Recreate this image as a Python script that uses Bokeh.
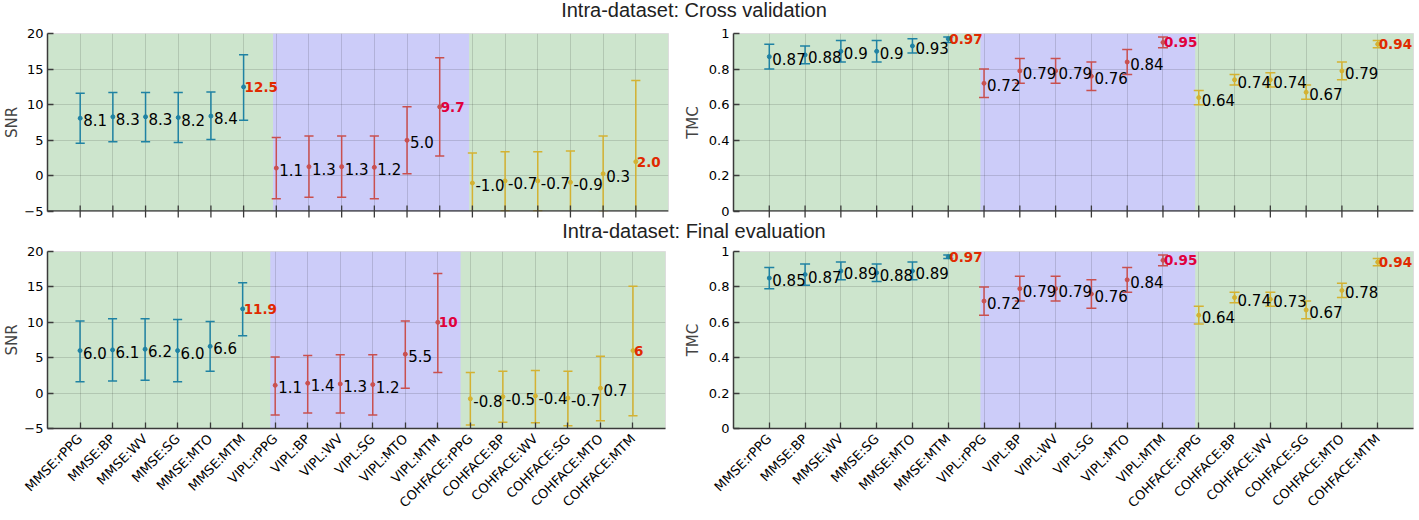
import math
from bokeh.plotting import figure
from bokeh.models import FixedTicker, BoxAnnotation, Div, Span
from bokeh.layouts import column, row
from bokeh.embed import file_html
from bokeh.resources import INLINE
from bokeh.core.properties import value

categories = ["MMSE:rPPG", "MMSE:BP", "MMSE:WV", "MMSE:SG", "MMSE:MTO", "MMSE:MTM",
              "VIPL:rPPG", "VIPL:BP", "VIPL:WV", "VIPL:SG", "VIPL:MTO", "VIPL:MTM",
              "COHFACE:rPPG", "COHFACE:BP", "COHFACE:WV", "COHFACE:SG", "COHFACE:MTO", "COHFACE:MTM"]

# Cross validation - SNR
snr_cv_mean = [8.1, 8.3, 8.3, 8.2, 8.4, 12.5, 1.1, 1.3, 1.3, 1.2, 5.0, 9.7, -1.0, -0.7, -0.7, -0.9, 0.3, 2.0]
snr_cv_low = [4.6, 4.8, 4.8, 4.7, 5.1, 7.8, -3.2, -3.0, -3.0, -3.2, 0.3, 2.8, -5.3, -4.9, -4.9, -5.3, -5.1, -9.4]
snr_cv_high = [11.6, 11.7, 11.7, 11.7, 11.8, 17.0, 5.4, 5.6, 5.6, 5.6, 9.7, 16.6, 3.2, 3.4, 3.4, 3.5, 5.6, 13.4]
snr_cv_labels = ["8.1", "8.3", "8.3", "8.2", "8.4", "12.5", "1.1", "1.3", "1.3", "1.2", "5.0", "9.7",
                 "-1.0", "-0.7", "-0.7", "-0.9", "0.3", "2.0"]

# Cross validation - TMC
tmc_cv_mean = [0.87, 0.88, 0.9, 0.9, 0.93, 0.97, 0.72, 0.79, 0.79, 0.76, 0.84, 0.95, 0.64, 0.74, 0.74, 0.67, 0.79, 0.94]
tmc_cv_low = [0.80, 0.83, 0.84, 0.84, 0.89, 0.95, 0.64, 0.72, 0.72, 0.68, 0.77, 0.92, 0.60, 0.71, 0.70, 0.63, 0.74, 0.92]
tmc_cv_high = [0.94, 0.93, 0.96, 0.96, 0.97, 0.98, 0.80, 0.86, 0.86, 0.84, 0.91, 0.98, 0.68, 0.77, 0.78, 0.71, 0.84, 0.96]
tmc_cv_labels = ["0.87", "0.88", "0.9", "0.9", "0.93", "0.97", "0.72", "0.79", "0.79", "0.76", "0.84", "0.95",
                 "0.64", "0.74", "0.74", "0.67", "0.79", "0.94"]

# Final evaluation - SNR
snr_fe_mean = [6.0, 6.1, 6.2, 6.0, 6.6, 11.9, 1.1, 1.4, 1.3, 1.2, 5.5, 10.0, -0.8, -0.5, -0.4, -0.7, 0.7, 6.0]
snr_fe_low = [1.6, 1.7, 1.8, 1.6, 3.1, 8.1, -3.1, -2.8, -2.8, -3.1, 0.7, 2.9, -4.5, -4.1, -4.2, -4.6, -3.9, -3.2]
snr_fe_high = [10.2, 10.5, 10.5, 10.4, 10.1, 15.6, 5.1, 5.3, 5.4, 5.4, 10.2, 16.9, 2.9, 3.1, 3.2, 3.1, 5.2, 15.1]
snr_fe_labels = ["6.0", "6.1", "6.2", "6.0", "6.6", "11.9", "1.1", "1.4", "1.3", "1.2", "5.5", "10",
                 "-0.8", "-0.5", "-0.4", "-0.7", "0.7", "6"]

# Final evaluation - TMC
tmc_fe_mean = [0.85, 0.87, 0.89, 0.88, 0.89, 0.97, 0.72, 0.79, 0.79, 0.76, 0.84, 0.95, 0.64, 0.74, 0.73, 0.67, 0.78, 0.94]
tmc_fe_low = [0.79, 0.81, 0.84, 0.83, 0.84, 0.96, 0.64, 0.72, 0.72, 0.68, 0.77, 0.92, 0.59, 0.71, 0.69, 0.62, 0.74, 0.92]
tmc_fe_high = [0.91, 0.93, 0.94, 0.93, 0.94, 0.98, 0.80, 0.86, 0.86, 0.84, 0.91, 0.98, 0.69, 0.77, 0.77, 0.72, 0.82, 0.96]
tmc_fe_labels = ["0.85", "0.87", "0.89", "0.88", "0.89", "0.97", "0.72", "0.79", "0.79", "0.76", "0.84", "0.95",
                 "0.64", "0.74", "0.73", "0.67", "0.78", "0.94"]

snr_ticks = [-5, 0, 5, 10, 15, 20]
tmc_ticks = [0, 0.2, 0.4, 0.6, 0.8, 1]
tmc_tick_labels = ["0", "0.2", "0.4", "0.6", "0.8", "1"]

best_idx = [5, 11, 17]
best_colors = ["#e02a00", "#e0003c", "#e02a00"]
group_colors = ["#1f82a3"] * 6 + ["#c9504f"] * 6 + ["#d4b232"] * 6

GREEN = "#cde5cd"
BLUE = "#ccccf9"
AXIS = "#3a3a3a"
FONT = "DejaVu Sans"


def make_panel(mean, low, high, labels, y_range, yticks, ytick_labels, ylabel, blue_span,
               width, height, bl, br, bt, bb, show_x, lab_standoff):
    p = figure(width=width, height=height, x_range=(0, 19), y_range=y_range,
               output_backend="svg", toolbar_location=None,
               min_border_left=bl, min_border_right=br, min_border_top=bt, min_border_bottom=bb)
    p.background_fill_color = GREEN
    p.border_fill_color = "white"
    p.outline_line_color = "#dddddd"
    p.add_layout(BoxAnnotation(left=blue_span[0], right=blue_span[1], fill_color=BLUE,
                               fill_alpha=1.0, line_color=None, level="image"))
    xs = list(range(1, len(categories) + 1))
    for g in (p.xgrid, p.ygrid):
        g.grid_line_color = "#000000"
        g.grid_line_alpha = 0.13
        g.grid_line_width = 1
    p.xaxis.ticker = FixedTicker(ticks=xs)
    p.yaxis.ticker = FixedTicker(ticks=yticks)
    p.xgrid.ticker = FixedTicker(ticks=xs)
    p.ygrid.ticker = FixedTicker(ticks=yticks)
    if ytick_labels is not None:
        p.yaxis.major_label_overrides = {t: l for t, l in zip(yticks, ytick_labels)}
    for ax in (p.xaxis, p.yaxis):
        ax.axis_line_color = AXIS
        ax.axis_line_width = 1.5
        ax.major_tick_in = 6
        ax.major_tick_out = 0
        ax.major_tick_line_color = AXIS
        ax.major_tick_line_width = 1.3
        ax.minor_tick_line_color = None
        ax.major_label_text_font = FONT
        ax.major_label_text_color = "black"
    p.yaxis.major_label_text_font_size = "13px"
    p.yaxis.major_label_standoff = 4
    p.yaxis.axis_label = ylabel
    p.yaxis.axis_label_text_font = FONT
    p.yaxis.axis_label_text_font_size = "15px"
    p.yaxis.axis_label_text_font_style = "normal"
    p.yaxis.axis_label_standoff = lab_standoff
    if show_x:
        p.xaxis.major_label_overrides = {x: c for x, c in zip(xs, categories)}
        p.xaxis.major_label_orientation = math.pi / 4
        p.xaxis.major_label_text_font_size = "13px"
        p.xaxis.major_label_standoff = 8
    else:
        # unlabeled bottom axis: axis line and inward ticks only
        p.xaxis.visible = False
        p.add_layout(Span(location=y_range[0], dimension="width", line_color=AXIS,
                          line_width=2.5, level="overlay"))
        p.scatter(x=xs, y=[y_range[0]] * len(xs), marker="dash", angle=math.pi / 2,
                  size=12, line_color=AXIS, line_width=1.3, level="overlay")

    cap = 0.14
    p.segment(x0=xs, y0=low, x1=xs, y1=high, line_color=group_colors, line_width=1.5)
    p.segment(x0=[x - cap for x in xs], y0=high, x1=[x + cap for x in xs], y1=high,
              line_color=group_colors, line_width=1.5)
    p.segment(x0=[x - cap for x in xs], y0=low, x1=[x + cap for x in xs], y1=low,
              line_color=group_colors, line_width=1.5)
    p.scatter(x=xs, y=mean, size=4, color=group_colors)

    nx = [x for i, x in enumerate(xs) if i not in best_idx]
    ny = [m for i, m in enumerate(mean) if i not in best_idx]
    nt = [t for i, t in enumerate(labels) if i not in best_idx]
    p.text(x=nx, y=ny, text=nt, x_offset=3, y_offset=2, text_baseline="middle",
           text_font=value(FONT), text_font_size="15px", text_color="black")
    bx = [xs[i] for i in best_idx]
    by = [mean[i] for i in best_idx]
    bt_ = [labels[i] for i in best_idx]
    p.text(x=bx, y=by, text=bt_, x_offset=1, y_offset=0, text_baseline="middle",
           text_font=value(FONT), text_font_size="13.5px", text_font_style="bold",
           text_color=best_colors)
    return p


p1 = make_panel(snr_cv_mean, snr_cv_low, snr_cv_high, snr_cv_labels, (-5, 20), snr_ticks, None,
                "SNR", (6.9, 12.9), 678, 194, 38, 10, 8, 8, False, 0)
p2 = make_panel(tmc_cv_mean, tmc_cv_low, tmc_cv_high, tmc_cv_labels, (0, 1), tmc_ticks, tmc_tick_labels,
                "TMC", (6.9, 12.9), 741, 194, 55, 6, 8, 8, False, 4)
p3 = make_panel(snr_fe_mean, snr_fe_low, snr_fe_high, snr_fe_labels, (-5, 20), snr_ticks, None,
                "SNR", (6.85, 12.7), 678, 277, 38, 13, 8, 92, True, 0)
p4 = make_panel(tmc_fe_mean, tmc_fe_low, tmc_fe_high, tmc_fe_labels, (0, 1), tmc_ticks, tmc_tick_labels,
                "TMC", (6.9, 12.9), 741, 277, 55, 6, 8, 92, True, 4)


def title_div(txt, h, pad):
    html = ('<div style="width:1388px;text-align:center;font-family:\'Liberation Sans\',Arial,sans-serif;'
            'font-size:20px;line-height:20px;margin-top:%dpx;color:#222;white-space:nowrap">%s</div>' % (pad, txt))
    return Div(text=html, width=1419, height=h, margin=0)


t1 = title_div("Intra-dataset: Cross validation", 25, 0)
t2 = title_div("Intra-dataset: Final evaluation", 24, 2)

layout = column(t1, row(p1, p2), t2, row(p3, p4))

open("out.html", "w").write(file_html(layout, INLINE))
